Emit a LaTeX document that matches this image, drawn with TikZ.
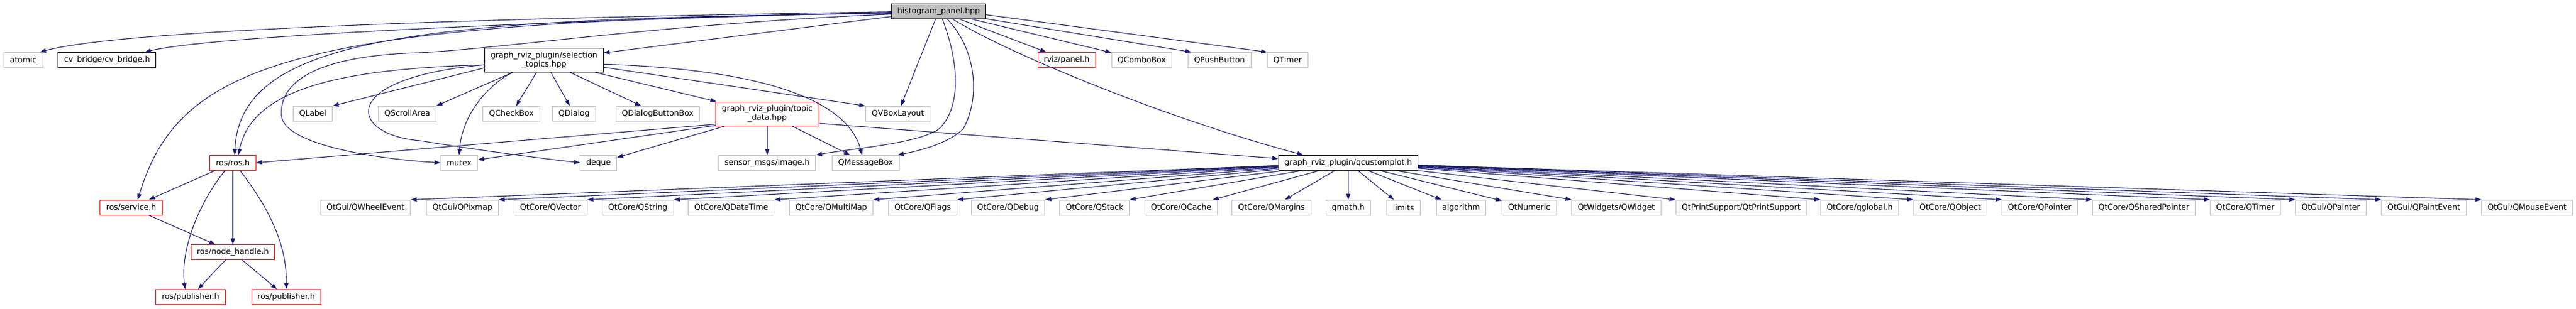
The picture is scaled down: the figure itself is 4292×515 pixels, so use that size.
\documentclass[tikz,border=0pt]{standalone}
\usepackage{fontspec}
\setmainfont{DejaVu Sans}
\usepackage{tikz}
\usetikzlibrary{arrows.meta, positioning, calc}

\definecolor{edgeblue}{RGB}{25,25,112}
\definecolor{sysgray}{RGB}{191,191,191}
\definecolor{incred}{RGB}{255,0,0}

\begin{document}
\begin{tikzpicture}[x=1pt, y=-1pt,
    box/.style={rectangle, fill=white, line width=1pt, inner xsep=10pt, inner ysep=0pt,
        minimum height=25pt, font=\fontsize{13}{15}\selectfont, align=center},
    sysinc/.style={box, draw=sysgray},
    redinc/.style={box, draw=incred},
    localinc/.style={box, draw=black},
    rootinc/.style={box, draw=black, fill=sysgray},
    dep/.style={draw=edgeblue, line width=1.1pt, -{Triangle[length=10pt,width=7pt]}}]
\useasboundingbox (0,0) rectangle (4292,515);

% root file
\node[rootinc] (hist) at (1564,18.7) {histogram\_panel.hpp};

% direct includes
\node[sysinc] (atomic) at (38.9,100) {atomic};
\node[localinc] (cvb) at (178.4,100) {cv\_bridge/cv\_bridge.h};
\node[localinc, minimum height=40pt] (sel) at (906.4,100.3) {graph\_rviz\_plugin/selection\\\_topics.hpp};
\node[redinc] (panel) at (1777.3,100) {rviz/panel.h};
\node[sysinc] (combo) at (1902.3,100) {QComboBox};
\node[sysinc] (pushbtn) at (2031.8,100) {QPushButton};
\node[sysinc] (qtimer) at (2145.4,100) {QTimer};

% second row
\node[sysinc] (qlabel) at (521.2,189.8) {QLabel};
\node[sysinc] (scroll) at (678.6,189.8) {QScrollArea};
\node[sysinc] (checkbox) at (852,189.8) {QCheckBox};
\node[sysinc] (dialog) at (956.5,189.8) {QDialog};
\node[sysinc] (btnbox) at (1095.8,189.8) {QDialogButtonBox};
\node[redinc, minimum height=40pt] (topic) at (1278.5,190) {graph\_rviz\_plugin/topic\\\_data.hpp};
\node[sysinc] (qvbox) at (1496,189.8) {QVBoxLayout};

% third row
\node[redinc] (ros) at (388,271.8) {ros/ros.h};
\node[sysinc] (mutex) at (765,271.8) {mutex};
\node[sysinc] (deque) at (997.3,271.8) {deque};
\node[sysinc] (sensor) at (1278.2,271.8) {sensor\_msgs/Image.h};
\node[sysinc] (msgbox) at (1442.4,271.8) {QMessageBox};
\node[localinc] (qcp) at (2246.4,271.8) {graph\_rviz\_plugin/qcustomplot.h};

% ros headers
\node[redinc] (svc) at (218.5,346.5) {ros/service.h};
\node[redinc] (nh) at (388,421.2) {ros/node\_handle.h};
\node[redinc] (pubA) at (317.5,495.8) {ros/publisher.h};
\node[redinc] (pubB) at (477,495.8) {ros/publisher.h};

% qcustomplot headers
\foreach \nm/\txt/\x in {wheel/{QtGui/QWheelEvent}/609, pixmap/{QtGui/QPixmap}/770.5,
    vector/{QtCore/QVector}/917.3, string/{QtCore/QString}/1062.8, datetime/{QtCore/QDateTime}/1218.3,
    multimap/{QtCore/QMultiMap}/1385, flags/{QtCore/QFlags}/1537.3, debug/{QtCore/QDebug}/1679.5,
    stack/{QtCore/QStack}/1823.8, cache/{QtCore/QCache}/1967.8, margins/{QtCore/QMargins}/2118.5,
    qmath/{qmath.h}/2246.3, limits/{limits}/2338.5, algorithm/{algorithm}/2434.5,
    numeric/{QtNumeric}/2548, widget/{QtWidgets/QWidget}/2693,
    printsup/{QtPrintSupport/QtPrintSupport}/2901, qglobal/{QtCore/qglobal.h}/3098.5,
    object/{QtCore/QObject}/3249.5, pointer/{QtCore/QPointer}/3398.5,
    sharedptr/{QtCore/QSharedPointer}/3572, coretimer/{QtCore/QTimer}/3741,
    painter/{QtGui/QPainter}/3883.5, paintev/{QtGui/QPaintEvent}/4038.5,
    mouse/{QtGui/QMouseEvent}/4210.5}
  \node[sysinc] (\nm) at (\x,346.5) {\txt};

% histogram_panel.hpp includes
\draw[dep] ([yshift=-1pt]hist.west) .. controls (800,30) and (200,50) .. ([xshift=-5pt]atomic.north east);
\draw[dep] ([yshift=-2pt]hist.west) .. controls (900,35) and (350,60) .. ([xshift=-19pt]cvb.north east);
\draw[dep] ([yshift=-3pt]hist.west) .. controls (500,35) and (300,100) .. ([xshift=11pt]svc.north);
\draw[dep] ([yshift=-4pt]hist.west) .. controls (700,30) and (400,60) .. ([xshift=3pt]ros.north);
\draw[dep] ([yshift=-5pt]hist.west) .. controls (1100,40) and (850,80) .. (700,88)
    .. controls (520,93) and (465,140) .. (469,193)
    .. controls (472,240) and (620,265) .. (mutex.west);
\draw[dep] ([yshift=-9pt]hist.west) -- ([yshift=12pt]sel.east);
\draw[dep] (hist) -- (qvbox);
\draw[dep] ([xshift=6pt]hist.south) .. controls (1600,110) and (1600,180) .. (1565,215)
    .. controls (1530,240) and (1420,248) .. (sensor.north east);
\draw[dep] ([xshift=14pt]hist.south) .. controls (1625,80) and (1635,160) .. (1605,215)
    .. controls (1580,240) and (1530,252) .. ([xshift=-3pt]msgbox.north east);
\draw[dep] ([xshift=23pt]hist.south) .. controls (1680,90) and (1950,200) .. ([xshift=-75pt]qcp.north);
\draw[dep] (hist) -- (panel);
\draw[dep] (hist) -- (combo);
\draw[dep] (hist) -- ([xshift=6pt]pushbtn.north west);
\draw[dep] ([yshift=-6pt]hist.east) -- (qtimer.north west);

% selection_topics.hpp includes
\draw[dep] ([yshift=-13pt]sel.west) -- (qlabel.north east);
\draw[dep] ([yshift=-8pt]sel.west) .. controls (560,115) and (420,150) .. ([xshift=9pt]ros.north);
\draw[dep] ([yshift=-8pt]sel.west) .. controls (560,130) and (580,225) .. (700,235)
    .. controls (780,248) and (880,262) .. (deque.west);
\draw[dep] ([xshift=-52pt]sel.south) -- (scroll.north east);
\draw[dep] ([xshift=-52pt]sel.south) .. controls (815,140) and (770,190) .. (mutex.north);
\draw[dep] (sel) -- (checkbox);
\draw[dep] (sel) -- (dialog);
\draw[dep] (sel) -- (btnbox);
\draw[dep] (sel) -- (topic);
\draw[dep] ([yshift=-12pt]sel.east) -- (qvbox.north west);
\draw[dep] ([yshift=-7pt]sel.east) .. controls (1250,115) and (1410,160) .. ([xshift=-6pt]msgbox.north);

% topic_data.hpp includes
\draw[dep] ([yshift=3pt]topic.south west) -- (ros.east);
\draw[dep] ([yshift=1pt]topic.south west) -- ([yshift=5pt]mutex.east);
\draw[dep] (topic) -- (deque);
\draw[dep] (topic) -- (sensor);
\draw[dep] (topic) -- (msgbox);
\draw[dep] ([yshift=-16pt]topic.east) -- ([yshift=7pt]qcp.west);

% ros/ros.h includes
\draw[dep] (ros) -- (svc);
\draw[dep] ([xshift=-13pt]ros.south) .. controls (330,340) and (300,420) .. ([xshift=-9pt]pubA.north);
\draw[dep] (ros) -- (nh);
\draw[dep] ([xshift=12pt]ros.south) .. controls (450,350) and (478,410) .. (pubB.north);
\draw[dep] (svc) -- (nh);
\draw[dep] (nh) -- (pubA);
\draw[dep] (nh) -- (pubB);

% qcustomplot.h includes
\foreach \nm/\anc in {wheel/north east, pixmap/north east, vector/north east, string/north east,
    datetime/north east, multimap/north east, flags/north east, debug/north east, stack/north east,
    widget/north west, printsup/north west, qglobal/north west, object/north west, pointer/north west,
    sharedptr/north west, coretimer/north west, painter/north west, paintev/north west, mouse/north west}
  \draw[dep] (qcp) -- (\nm.\anc);
\foreach \nm in {margins, qmath, limits, algorithm, numeric}
  \draw[dep] (qcp) -- (\nm);
\draw[dep] (qcp) -- ([xshift=-8pt]cache.north east);
\end{tikzpicture}
\end{document}
